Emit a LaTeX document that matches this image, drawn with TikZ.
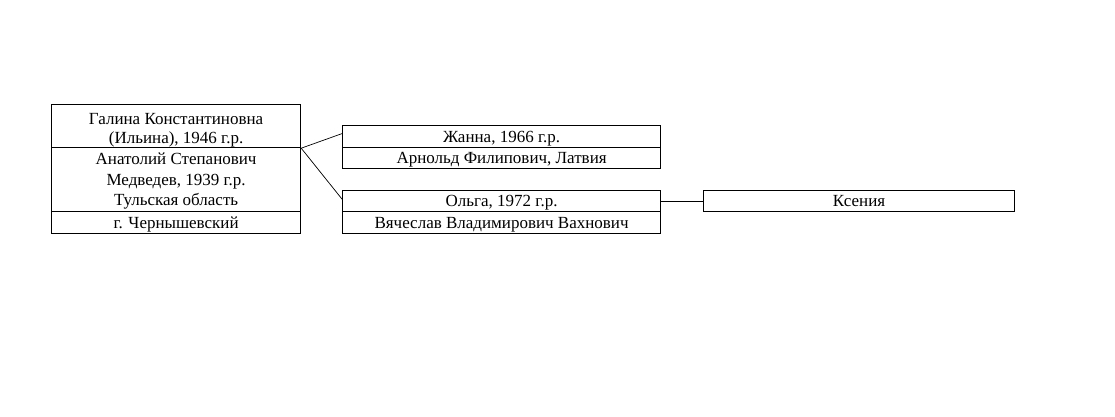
\documentclass[tikz,border=0pt]{standalone}
\usepackage{fontspec}
\setmainfont{Liberation Serif}
\begin{document}
\begin{tikzpicture}[x=1pt,y=-1pt,
  cell/.style={draw,line width=1.2pt,inner sep=0pt,anchor=north west,align=center,font=\fontsize{17}{20.5}\selectfont},
  one/.style={text height=13pt,text depth=2.2pt},
  link/.style={line width=0.7pt}]
\useasboundingbox (0,0) rectangle (1115,417);
\node[cell,font=\fontsize{17}{19}\selectfont,minimum width=249pt,minimum height=43pt] (galina) at (51,104) {\rule{0pt}{19pt}Галина Константиновна\\(Ильина), 1946 г.р.};
\node[cell,minimum width=249pt,minimum height=64pt] (anatoly) at (51,147) {\rule{0pt}{15pt}Анатолий Степанович\\Медведев, 1939 г.р.\\Тульская область};
\node[cell,one,minimum width=249pt,minimum height=22pt] (city) at (51,211) {г. Чернышевский};
\node[cell,one,minimum width=318pt,minimum height=22pt] (zhanna) at (342,125) {Жанна, 1966 г.р.};
\node[cell,one,minimum width=318pt,minimum height=21pt] (arnold) at (342,147) {Арнольд Филипович, Латвия};
\node[cell,one,minimum width=318pt,minimum height=21pt] (olga) at (342,190) {Ольга, 1972 г.р.};
\node[cell,one,minimum width=318pt,minimum height=22pt] (vyach) at (342,211) {Вячеслав Владимирович Вахнович};
\node[cell,one,minimum width=311pt,minimum height=21pt] (ksenia) at (703,190) {Ксения};
\draw[link] (galina.south east) -- ([yshift=3pt]zhanna.west);
\draw[link] (galina.south east) -- ([yshift=2pt]olga.west);
\draw[link] (olga.east) -- (ksenia.west);
\end{tikzpicture}
\end{document}
